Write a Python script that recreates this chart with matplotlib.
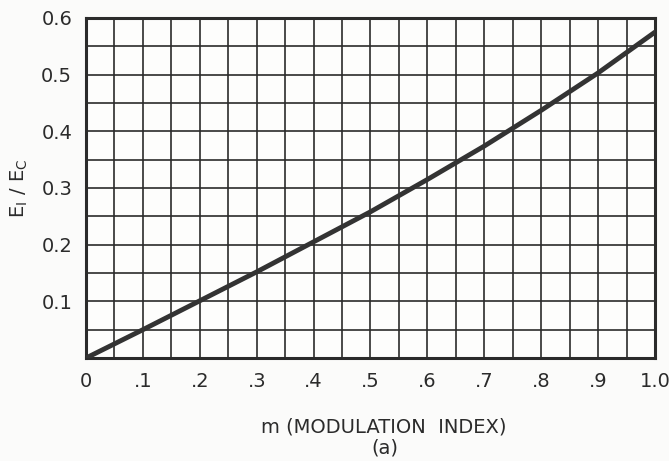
import matplotlib
matplotlib.use("Agg")
from matplotlib import pyplot as plt
import numpy as np

# values
m_values = [0.0, 0.1, 0.2, 0.3, 0.4, 0.5, 0.6, 0.7, 0.8, 0.9, 1.0]
ratio_values = [0.0, 0.050, 0.101, 0.152, 0.205, 0.258, 0.315, 0.374, 0.437, 0.503, 0.575]

x_ticks = [0, 0.1, 0.2, 0.3, 0.4, 0.5, 0.6, 0.7, 0.8, 0.9, 1.0]
x_tick_labels = ["0", ".1", ".2", ".3", ".4", ".5", ".6", ".7", ".8", ".9", "1.0"]
y_ticks = [0.1, 0.2, 0.3, 0.4, 0.5, 0.6]
y_tick_labels = ["0.1", "0.2", "0.3", "0.4", "0.5", "0.6"]

plt.rcParams["font.family"] = ["DejaVu Sans"]

ink = "#2b2b2b"
fig = plt.figure(figsize=(6.69, 4.61), dpi=100)
fig.patch.set_facecolor("#fbfbfa")
ax = fig.add_axes([0.1286, 0.2234, 0.8504, 0.7376])
ax.set_facecolor("#fdfdfc")

# fine grid every 0.05
for gx in np.arange(0.05, 1.0, 0.05):
    ax.axvline(gx, color=ink, linewidth=1.2, zorder=1)
for gy in np.arange(0.05, 0.6, 0.05):
    ax.axhline(gy, color=ink, linewidth=1.2, zorder=1)

ax.plot(m_values, ratio_values, color="#333333", linewidth=3.5, solid_capstyle="round", zorder=3)

ax.set_xlim(0, 1.0)
ax.set_ylim(0, 0.6)
for side in ax.spines.values():
    side.set_linewidth(2.2)
    side.set_color(ink)

ax.set_xticks(x_ticks)
ax.set_xticklabels(x_tick_labels, fontsize=14, color=ink)
ax.set_yticks(y_ticks)
ax.set_yticklabels(y_tick_labels, fontsize=14, color=ink)
ax.tick_params(axis="x", length=0, pad=10)
ax.tick_params(axis="y", length=0, pad=10)

ax.set_ylabel(r"E$_\mathregular{I}$ / E$_\mathregular{C}$", fontsize=14, color=ink, labelpad=8)
ax.set_xlabel("m (MODULATION  INDEX)", fontsize=14, color=ink)
ax.xaxis.set_label_coords(0.524, -0.175)
fig.text(0.575, 0.028, "(a)", fontsize=14, color=ink, ha="center", va="center")

fig.savefig("out.png", dpi=100, facecolor=fig.get_facecolor())
